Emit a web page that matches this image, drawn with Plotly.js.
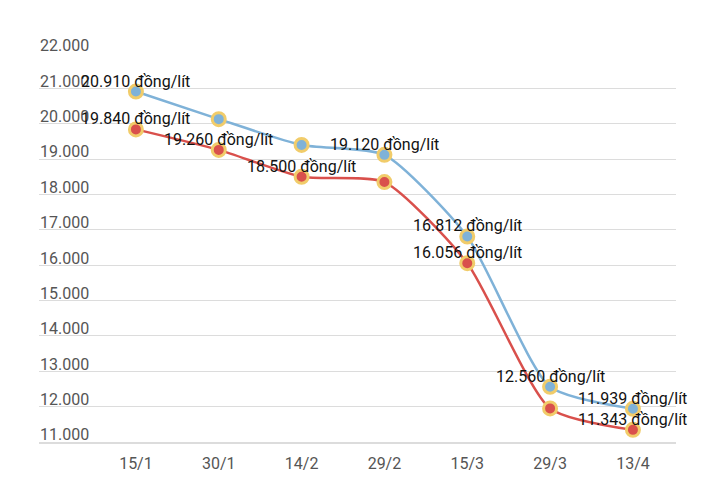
<!DOCTYPE html>
<html>
<head>
<meta charset="utf-8">
<script src="https://cdn.plot.ly/plotly-3.0.1.min.js"></script>
<style>html,body{margin:0;padding:0;background:#fff;}#chart{width:720px;height:494px;}</style>
</head>
<body>
<div id="chart"></div>
<script>
const categories = ["15/1", "30/1", "14/2", "29/2", "15/3", "29/3", "13/4"];
const blueValues = [20910, 20130, 19400, 19120, 16812, 12560, 11939];
const redValues = [19840, 19260, 18500, 18350, 16056, 11950, 11343];
const blueLabels = ["20.910 đồng/lít", "", "", "19.120 đồng/lít", "16.812 đồng/lít", "12.560 đồng/lít", "11.939 đồng/lít"];
const redLabels = ["19.840 đồng/lít", "19.260 đồng/lít", "18.500 đồng/lít", "", "16.056 đồng/lít", "", "11.343 đồng/lít"];
const yTickVals = [11000, 12000, 13000, 14000, 15000, 16000, 17000, 18000, 19000, 20000, 21000, 22000];
const yTickText = ["11.000", "12.000", "13.000", "14.000", "15.000", "16.000", "17.000", "18.000", "19.000", "20.000", "21.000", "22.000"];

const xIdx = categories.map((c, i) => i);

function series(vals, color) {
  return {
    x: xIdx, y: vals, type: "scatter", mode: "lines+markers",
    line: {color: color, width: 2.5, shape: "spline", smoothing: 0.6},
    marker: {color: color, size: 13, line: {color: "#f1cc6a", width: 3}},
    hoverinfo: "skip", cliponaxis: false
  };
}

const traces = [series(redValues, "#d9504c"), series(blueValues, "#7fb2d8")];

const annotations = [];
function addLabels(vals, labels) {
  labels.forEach((t, i) => {
    if (!t) return;
    annotations.push({
      x: xIdx[i], y: vals[i], text: t, showarrow: false,
      xanchor: "center", yanchor: "bottom", yshift: -1,
      font: {family: "Roboto", size: 16, color: "#111"}
    });
  });
}
addLabels(blueValues, blueLabels);
addLabels(redValues, redLabels);

const layout = {
  width: 720, height: 494,
  margin: {l: 39, r: 44, t: 53, b: 52},
  paper_bgcolor: "#fff", plot_bgcolor: "#fff",
  showlegend: false,
  font: {family: "Roboto", size: 16, color: "#555"},
  xaxis: {
    range: [-1.17, 6.52],
    tickmode: "array", tickvals: xIdx, ticktext: categories,
    showgrid: false, zeroline: false,
    showline: true, linecolor: "#dcdcdc", linewidth: 1.5,
    ticks: "outside", ticklen: 6, tickcolor: "rgba(0,0,0,0)",
    tickfont: {family: "Roboto", size: 16, color: "#555"}
  },
  yaxis: {
    range: [11000, 22000],
    tickmode: "array", tickvals: yTickVals, ticktext: yTickText,
    ticklabelposition: "inside top", ticklabeloverflow: "allow",
    ticklabelshift: 4, ticklabelstandoff: -2,
    showgrid: true, gridcolor: "#dcdcdc", gridwidth: 1,
    zeroline: false, showline: false, ticks: "",
    tickfont: {family: "Roboto", size: 16, color: "#555"}
  },
  annotations: annotations
};

Plotly.newPlot("chart", traces, layout, {displayModeBar: false, staticPlot: true});
</script>
</body>
</html>
